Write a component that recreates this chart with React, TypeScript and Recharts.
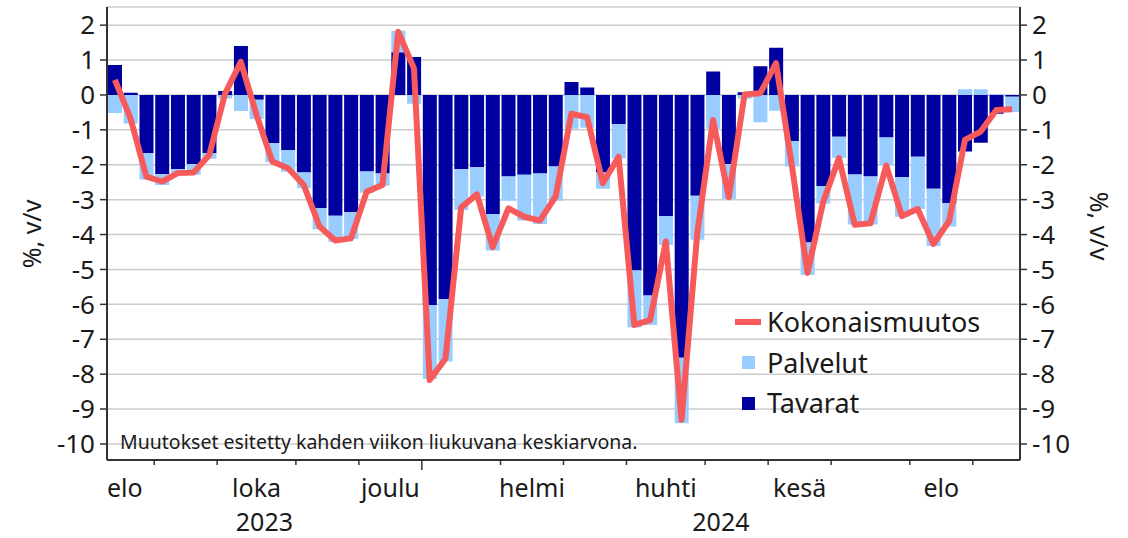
import React from 'react';
import { ComposedChart, Bar, Line, XAxis, YAxis, CartesianGrid } from 'recharts';

// week starting dates (Monday)
const weeks = [
  '2023-08-14', '2023-08-21', '2023-08-28',
  '2023-09-04', '2023-09-11', '2023-09-18', '2023-09-25',
  '2023-10-02', '2023-10-09', '2023-10-16', '2023-10-23', '2023-10-30',
  '2023-11-06', '2023-11-13', '2023-11-20', '2023-11-27',
  '2023-12-04', '2023-12-11', '2023-12-18', '2023-12-25',
  '2024-01-01', '2024-01-08', '2024-01-15', '2024-01-22', '2024-01-29',
  '2024-02-05', '2024-02-12', '2024-02-19', '2024-02-26',
  '2024-03-04', '2024-03-11', '2024-03-18', '2024-03-25',
  '2024-04-01', '2024-04-08', '2024-04-15', '2024-04-22', '2024-04-29',
  '2024-05-06', '2024-05-13', '2024-05-20', '2024-05-27',
  '2024-06-03', '2024-06-10', '2024-06-17', '2024-06-24',
  '2024-07-01', '2024-07-08', '2024-07-15', '2024-07-22', '2024-07-29',
  '2024-08-05', '2024-08-12', '2024-08-19', '2024-08-26',
  '2024-09-02', '2024-09-09', '2024-09-16',
];

const tavarat = [
  0.86, 0.06, -1.67, -2.27, -2.13, -1.98, -1.66, 0.11, 1.4, -0.14,
  -1.38, -1.58, -2.22, -3.25, -3.46, -3.36, -2.19, -2.25, 1.22, 1.09,
  -6.02, -5.85, -2.13, -2.07, -3.41, -2.34, -2.29, -2.25, -2.05, 0.37,
  0.21, -2.22, -0.84, -5.03, -5.75, -3.47, -7.53, -2.89, 0.67, -1.98,
  0.08, 0.82, 1.35, -1.32, -4.23, -2.61, -1.2, -2.28, -2.34, -1.22,
  -2.36, -1.77, -2.69, -3.1, -1.62, -1.37, -0.54, -0.05,
];

const palvelut = [
  -0.52, -0.82, -0.75, -0.31, -0.12, -0.31, -0.17, -0.1, -0.46, -0.55,
  -0.55, -0.62, -0.45, -0.6, -0.75, -0.77, -0.61, -0.35, 0.62, -0.25,
  -2.12, -1.79, -1.17, -0.84, -1.05, -0.69, -1.31, -1.45, -0.98, -0.97,
  -0.94, -0.47, -0.98, -1.63, -0.84, -0.83, -1.88, -1.26, -0.97, -1.0,
  -0.11, -0.78, -0.45, -0.73, -0.93, -0.5, -0.61, -1.43, -1.37, -0.8,
  -1.13, -1.5, -1.64, -0.67, 0.16, 0.16, 0.02, -0.44,
];

const kokonaismuutos = [
  0.43, -0.68, -2.34, -2.48, -2.24, -2.22, -1.72, 0.04, 0.95, -0.57,
  -1.91, -2.1, -2.58, -3.77, -4.17, -4.11, -2.77, -2.58, 1.81, 0.76,
  -8.17, -7.56, -3.22, -2.85, -4.36, -3.25, -3.49, -3.6, -2.91, -0.54,
  -0.64, -2.53, -1.77, -6.59, -6.45, -4.2, -9.31, -3.95, -0.72, -2.93,
  0.01, 0.05, 0.91, -2.0, -5.1, -3.06, -1.81, -3.72, -3.68, -2.02,
  -3.47, -3.27, -4.27, -3.61, -1.29, -1.05, -0.43, -0.41,
];

const monthNames = ['tammi', 'helmi', 'maalis', 'huhti', 'touko', 'kesä', 'heinä', 'elo', 'syys', 'loka', 'marras', 'joulu'];
const yTicks = [2, 1, 0, -1, -2, -3, -4, -5, -6, -7, -8, -9, -10];

const data = weeks.map((week, i) => ({
  week,
  tavarat: tavarat[i],
  palvelut: palvelut[i],
  kokonaismuutos: kokonaismuutos[i],
}));

const W = 1128;
const H = 538;
const LEFT_W = 107;
const RIGHT_W = 108;
const X_H = 78;
const BAND = (W - LEFT_W - RIGHT_W) / weeks.length;
const FONT = '"Noto Sans", "Open Sans", sans-serif';
const TEXT = '#1a1a1a';
const AXIS = '#333333';
const RED = '#f75a5a';

// group consecutive weeks into months and years
function groupBy(keyOf: (w: string) => string) {
  const out: { key: string; start: number; end: number }[] = [];
  weeks.forEach((w, i) => {
    const k = keyOf(w);
    const last = out[out.length - 1];
    if (last && last.key === k) last.end = i + 1;
    else out.push({ key: k, start: i, end: i + 1 });
  });
  return out;
}
const monthGroups = groupBy(w => w.slice(0, 7));
const yearGroups = groupBy(w => w.slice(0, 4));

const renderTick = (props: any) => {
  const { x, y, payload } = props;
  const i = weeks.indexOf(payload.value);
  const left = x - BAND / 2;
  const els: React.ReactNode[] = [];
  const mg = monthGroups.find(g => g.start === i);
  const yg = yearGroups.find(g => g.start === i);
  if (mg && i > 0) {
    els.push(
      <line key="t" x1={left} x2={left} y1={y} y2={y + (yg ? 10 : 5)} stroke={AXIS} strokeWidth={1.5} />,
    );
  }
  if (mg) {
    const m = Number(mg.key.slice(5, 7));
    if (m % 2 === 0) {
      const first = mg.start === 0;
      els.push(
        <text
          key="m"
          x={first ? left : left + ((mg.end - mg.start) * BAND) / 2}
          y={y + 36.5}
          textAnchor={first ? 'start' : 'middle'}
          fontSize={25}
          fontFamily={FONT}
          fill={TEXT}
        >
          {monthNames[m - 1]}
        </text>,
      );
    }
  }
  if (yg) {
    els.push(
      <text
        key="y"
        x={left + ((yg.end - yg.start) * BAND) / 2}
        y={y + 70.5}
        textAnchor="middle"
        fontSize={25}
        fontFamily={FONT}
        fill={TEXT}
      >
        {yg.key}
      </text>,
    );
  }
  return <g>{els}</g>;
};

const yAxisProps = {
  type: 'number' as const,
  domain: [-10.46, 2.52],
  ticks: yTicks,
  interval: 0,
  allowDataOverflow: true,
  tickSize: 7,
  tickMargin: 5,
  tick: { fontSize: 26, fill: TEXT, fontFamily: FONT },
  axisLine: { stroke: AXIS, strokeWidth: 2 },
  tickLine: { stroke: AXIS, strokeWidth: 1.5 },
};

export default function App() {
  return (
    <div style={{ position: 'absolute', left: 0, top: 0, width: W, height: H, background: '#fff' }}>
      <ComposedChart
        width={W}
        height={H}
        data={data}
        stackOffset="sign"
        margin={{ top: 7, right: 0, bottom: 0, left: 0 }}
      >
        <CartesianGrid vertical={false} stroke="#cccccc" strokeWidth={1.5} yAxisId="left" />
        <XAxis
          dataKey="week"
          height={X_H}
          interval={0}
          tickLine={false}
          tickSize={0}
          tickMargin={0}
          axisLine={{ stroke: AXIS, strokeWidth: 2 }}
          tick={renderTick}
        />
        <YAxis yAxisId="left" width={LEFT_W} {...yAxisProps} />
        <YAxis yAxisId="right" orientation="right" width={RIGHT_W} {...yAxisProps} />
        <Bar yAxisId="left" dataKey="tavarat" stackId="a" fill="#0000a0" barSize={14} isAnimationActive={false} />
        <Bar yAxisId="left" dataKey="palvelut" stackId="a" fill="#99ccff" barSize={14} isAnimationActive={false} />
        <Line
          yAxisId="right"
          type="linear"
          dataKey="kokonaismuutos"
          stroke={RED}
          strokeWidth={6}
          strokeLinejoin="round"
          dot={false}
          isAnimationActive={false}
        />
      </ComposedChart>
      <svg
        width={W}
        height={H}
        style={{ position: 'absolute', left: 0, top: 0, pointerEvents: 'none' }}
        fontFamily={FONT}
        fill={TEXT}
      >
        <text x={41} y={234} fontSize={25} textAnchor="middle" transform="rotate(-90 41 234)">
          %, v/v
        </text>
        <text x={1090} y={226} fontSize={25} textAnchor="middle" transform="rotate(90 1090 226)">
          %, v/v
        </text>
        <text x={120} y={449} fontSize={19.5}>
          Muutokset esitetty kahden viikon liukuvana keskiarvona.
        </text>
        <line x1={735} x2={761} y1={322} y2={322} stroke={RED} strokeWidth={6} />
        <text x={767} y={332} fontSize={27}>Kokonaismuutos</text>
        <rect x={742} y={356} width={13} height={13} fill="#99ccff" />
        <text x={767} y={373} fontSize={27}>Palvelut</text>
        <rect x={742} y={397} width={13} height={13} fill="#0000a0" />
        <text x={767} y={413} fontSize={27}>Tavarat</text>
      </svg>
    </div>
  );
}
